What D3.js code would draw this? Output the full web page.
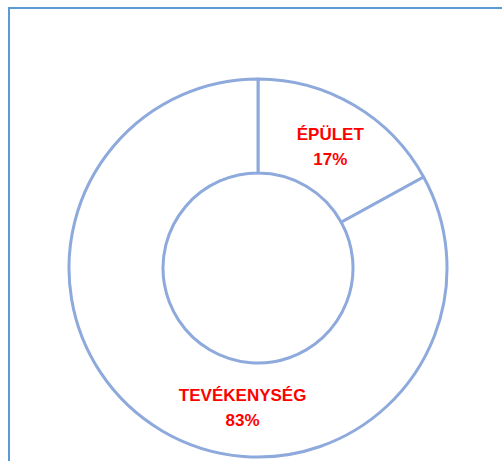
<!DOCTYPE html>
<html>
<head>
<meta charset="utf-8">
<script src="https://cdn.jsdelivr.net/npm/d3@7"></script>
<style>
  body { margin: 0; background: #fff; }
  svg { display: block; }
</style>
</head>
<body>
<svg id="chart" width="502" height="461"></svg>
<script>
// chart data
var categories = ["ÉPÜLET", "TEVÉKENYSÉG"];
var shares = [17, 83];
var shareLabels = ["17%", "83%"];

var width = 502, height = 461;
var cx = 258, cy = 268;
var outerR = 189, innerR = 95;

var svg = d3.select("#chart");

// chart area frame, runs off the right/bottom edge
svg.append("rect")
  .attr("x", 9).attr("y", 8)
  .attr("width", 520).attr("height", 480)
  .attr("fill", "#fff")
  .attr("stroke", "#5B9BD5")
  .attr("stroke-width", 2);

var pie = d3.pie().sort(null).value(function(d) { return d; });
var arcs = pie(shares);

var arc = d3.arc().innerRadius(innerR).outerRadius(outerR);

var g = svg.append("g").attr("transform", "translate(" + cx + "," + cy + ")");

g.selectAll("path.slice")
  .data(arcs)
  .enter().append("path")
  .attr("class", "slice")
  .attr("d", arc)
  .attr("fill", "#fff")
  .attr("stroke", "#8EA9DB")
  .attr("stroke-width", 3)
  .attr("stroke-linejoin", "round");

// label placement: first label sits at the centroid, the big one is pulled toward the bottom
var labelArc = d3.arc().innerRadius(innerR).outerRadius(outerR);
function labelPos(d, i) {
  if (i === 0) return labelArc.centroid(d);
  var a = Math.PI + 0.11, r = 140;
  return [r * Math.sin(a), -r * Math.cos(a)];
}

var labels = g.selectAll("g.lbl")
  .data(arcs)
  .enter().append("g")
  .attr("class", "lbl")
  .attr("transform", function(d, i) {
    var p = labelPos(d, i);
    return "translate(" + p[0] + "," + p[1] + ")";
  });

labels.append("text")
  .attr("text-anchor", "middle")
  .attr("y", -6)
  .attr("font-family", "'Liberation Sans', Arial, sans-serif")
  .attr("font-weight", "bold")
  .attr("font-size", 17)
  .attr("fill", "#FF0000")
  .text(function(d, i) { return categories[i]; });

labels.append("text")
  .attr("text-anchor", "middle")
  .attr("y", 19)
  .attr("font-family", "'Liberation Sans', Arial, sans-serif")
  .attr("font-weight", "bold")
  .attr("font-size", 17)
  .attr("fill", "#FF0000")
  .text(function(d, i) { return shareLabels[i]; });
</script>
</body>
</html>
